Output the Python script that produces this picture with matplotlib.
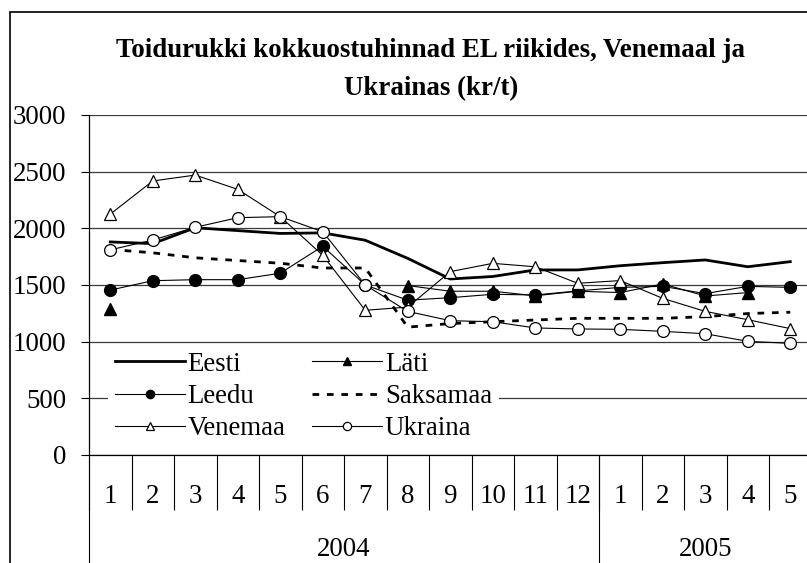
import numpy as np
import matplotlib
matplotlib.use("Agg")
import matplotlib.pyplot as plt
from matplotlib.patches import Rectangle

plt.rcParams['font.family'] = ['Liberation Serif', 'DejaVu Serif']

# data (kr/t)
months = ['1', '2', '3', '4', '5', '6', '7', '8', '9', '10', '11', '12', '1', '2', '3', '4', '5']
years = ['2004', '2005']
year_len = [12, 5]
nan = np.nan

eesti = [1880, 1865, 2005, 1980, 1955, 1960, 1895, 1735, 1553, 1575, 1633, 1633, 1670, 1697, 1721, 1661, 1706]
lati = [1285, nan, nan, nan, nan, nan, nan, 1495, 1445, 1445, 1405, 1445, 1433, 1509, 1403, 1433, nan]
leedu = [1455, 1538, 1547, 1547, 1604, 1842, 1500, 1366, 1388, 1418, 1412, 1448, 1479, 1488, 1424, 1488, 1479]
saksamaa = [1814, 1784, 1740, 1716, 1692, 1650, 1650, 1128, 1160, 1176, 1191, 1206, 1206, 1206, 1221, 1248, 1260]
venemaa = [2125, 2418, 2470, 2344, 2103, 1762, 1277, 1305, 1618, 1691, 1661, 1515, 1539, 1382, 1267, 1194, 1115]
ukraina = [1810, 1897, 2009, 2094, 2103, 1970, 1500, 1267, 1185, 1176, 1121, 1112, 1109, 1091, 1070, 1003, 985]

W, H = 807, 563
fig = plt.figure(figsize=(W / 100, H / 100), dpi=100)

# plot area in pixels: left 89, top 115, bottom 455, right ~811 (cut off by image)
ax = fig.add_axes([89 / W, (H - 455) / H, (811.5 - 89) / W, 340 / H])

x = np.arange(len(months))
fs = 19.4

l_ee, = ax.plot(x, eesti, color='black', lw=2.0, label='Eesti', zorder=3)
l_la, = ax.plot(x, lati, color='black', lw=0.8, marker='^', ms=8, mfc='black', mec='black',
                label='Läti', zorder=3)
l_le, = ax.plot(x, leedu, color='black', lw=0.8, marker='o', ms=8.5, mfc='black', mec='black',
                label='Leedu', zorder=3)
l_sa, = ax.plot(x, saksamaa, color='black', lw=2.0, dashes=(2.4, 2.8), label='Saksamaa', zorder=3)
l_ve, = ax.plot(x, venemaa, color='black', lw=0.8, marker='^', ms=8.5, mfc='white', mec='black',
                mew=0.9, label='Venemaa', zorder=3)
l_uk, = ax.plot(x, ukraina, color='black', lw=0.8, marker='o', ms=8.5, mfc='white', mec='black',
                mew=0.9, label='Ukraina', zorder=3)

ax.set_xlim(-0.5, len(months) - 0.5)
ax.set_ylim(0, 3000)
ax.set_yticks(np.arange(0, 3001, 500))
ax.tick_params(axis='y', direction='out', length=5.8, width=0.8, pad=10.5, labelsize=fs)
ax.yaxis.grid(True, color='#3a3a3a', lw=0.9, zorder=0)
ax.set_axisbelow(True)

for s in ['top', 'right']:
    ax.spines[s].set_visible(False)
ax.spines['left'].set_linewidth(0.9)
ax.spines['bottom'].set_linewidth(0.9)

# category axis: months, then years
ax.set_xticks([])
xt = ax.get_xaxis_transform()
for i, m in enumerate(months):
    ax.text(i, -0.141, m, transform=xt, ha='center', va='baseline', fontsize=fs)
ax.vlines(np.arange(len(months) + 1) - 0.5, -0.162, 0, transform=xt, color='black',
          lw=0.8, clip_on=False)
start = -0.5
for yr, n in zip(years, year_len):
    ax.vlines([start], -0.4, 0, transform=xt, color='black', lw=0.8, clip_on=False)
    ax.text(start + n / 2, -0.297, yr, transform=xt, ha='center', va='baseline', fontsize=fs)
    start += n

# legend rows: Eesti/Läti, Leedu/Saksamaa, Venemaa/Ukraina (filled column-wise)
handles = [l_ee, l_le, l_ve, l_la, l_sa, l_uk]
leg = ax.legend(handles=handles, labels=[h.get_label() for h in handles], ncol=2,
                loc='upper left', bbox_to_anchor=(0.026, 0.3235), borderaxespad=0,
                fontsize=fs, frameon=True, facecolor='white', edgecolor='none', framealpha=1,
                fancybox=False, borderpad=0.25, handlelength=2.6, handletextpad=0.1,
                columnspacing=1.0, labelspacing=0.27, markerscale=0.7)
leg.set_zorder(5)

fig.text(431 / W, 1 - 57 / H, 'Toidurukki kokkuostuhinnad EL riikides, Venemaal ja',
         ha='center', va='baseline', fontsize=fs, fontweight='bold')
fig.text(431 / W, 1 - 95 / H, 'Ukrainas (kr/t)', ha='center', va='baseline',
         fontsize=fs, fontweight='bold')

# chart frame
fig.add_artist(Rectangle((10 / W, -0.1), 2, 1.1 - 12 / H, transform=fig.transFigure,
                         fill=False, lw=1.2, ec='black'))

fig.savefig('out.png', dpi=100)
